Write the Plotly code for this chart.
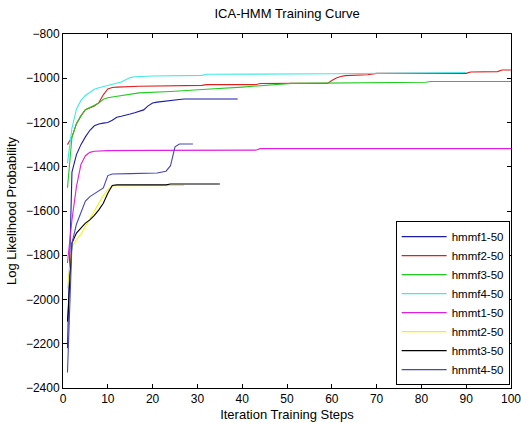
import plotly.graph_objects as go

names = ["hmmf1-50", "hmmf2-50", "hmmf3-50", "hmmf4-50",
         "hmmt1-50", "hmmt2-50", "hmmt3-50", "hmmt4-50"]
colors = ["#1c1ca8", "#dd2020", "#20cc20", "#40eaea",
          "#e020e0", "#f4f400", "#000000", "#4646c0"]

hmmf1_x = [1, 2, 3, 4, 5, 6, 7, 8, 9, 10, 11, 12, 13, 14, 15, 16, 17, 18, 19, 20, 21, 22, 23, 24, 25, 26, 27, 39]
hmmf1_y = [-2220, -1424, -1345, -1300, -1265, -1235, -1215, -1207, -1203, -1200, -1190, -1176, -1172, -1168,
           -1162, -1156, -1150, -1143, -1125, -1112, -1108, -1105, -1103, -1100, -1098, -1096, -1094, -1094]

hmmf2_x = [1, 2, 3, 4, 5, 6, 7, 8, 9, 10, 11, 12, 17, 31, 32, 43, 44, 51, 59, 60, 61, 62, 63, 68, 70, 90, 91, 97, 98, 100]
hmmf2_y = [-1300, -1266, -1205, -1170, -1142, -1132, -1125, -1110, -1075, -1048, -1042, -1040, -1036, -1032,
           -1029, -1029, -1024, -1023, -1023, -1010, -999, -992, -988, -984, -978, -978, -972, -970, -963, -963]

hmmf3_x = [1, 2, 3, 4, 5, 6, 7, 8, 9, 10, 11, 13, 15, 17, 24, 28, 32, 40, 48, 51, 81, 82, 100]
hmmf3_y = [-1495, -1266, -1205, -1170, -1142, -1132, -1122, -1112, -1095, -1088, -1085, -1078, -1070, -1066,
           -1060, -1056, -1050, -1040, -1030, -1023, -1018, -1015, -1015]

hmmf4_x = [1, 2, 3, 4, 5, 6, 7, 8, 9, 10, 11, 12, 13, 14, 15, 16, 20, 31, 32, 60, 90]
hmmf4_y = [-1385, -1225, -1140, -1100, -1078, -1062, -1050, -1043, -1038, -1034, -1030, -1024, -1017, -1007,
           -997, -993, -990, -987, -982, -980, -974]

hmmt1_x = [1, 2, 3, 4, 5, 6, 7, 8, 10, 20, 43, 44, 100]
hmmt1_y = [-1835, -1640, -1490, -1390, -1350, -1335, -1330, -1328, -1327, -1326, -1325, -1318, -1318]

hmmt2_x = [1, 2, 3, 4, 5, 6, 7, 8, 9, 10, 11, 27]
hmmt2_y = [-1950, -1760, -1730, -1705, -1670, -1635, -1600, -1565, -1530, -1505, -1486, -1484]

hmmt3_x = [1, 2, 3, 4, 5, 6, 7, 8, 9, 10, 11, 12, 23, 24, 35]
hmmt3_y = [-2100, -1745, -1700, -1675, -1655, -1640, -1620, -1595, -1565, -1520, -1485, -1482, -1482, -1478, -1478]

hmmt4_x = [1, 2, 3, 4, 5, 6, 7, 8, 9, 10, 11, 15, 21, 23, 24, 25, 26, 29]
hmmt4_y = [-2330, -1745, -1660, -1605, -1555, -1535, -1522, -1512, -1496, -1440, -1433, -1431, -1428,
           -1420, -1395, -1310, -1297, -1297]

xs = [hmmf1_x, hmmf2_x, hmmf3_x, hmmf4_x, hmmt1_x, hmmt2_x, hmmt3_x, hmmt4_x]
ys = [hmmf1_y, hmmf2_y, hmmf3_y, hmmf4_y, hmmt1_y, hmmt2_y, hmmt3_y, hmmt4_y]

x_ticks = list(range(0, 101, 10))
y_ticks = list(range(-2400, -799, 200))

fig = go.Figure()
for n, c, x, y in zip(names, colors, xs, ys):
    fig.add_trace(go.Scatter(x=x, y=y, mode="lines", name=n,
                             line=dict(color=c, width=1.1)))

fam = "Liberation Sans, Arial, sans-serif"
tick_font = dict(family=fam, size=12, color="black")
title_font = dict(family=fam, size=13, color="black")
legend_font = dict(family=fam, size=11.5, color="black")
axis_common = dict(showline=True, linecolor="black", linewidth=1, mirror="ticks",
                   ticks="inside", ticklen=4, tickcolor="black", tickwidth=1,
                   showgrid=False, zeroline=False, tickfont=tick_font, automargin=False,
                   ticklabeloverflow="allow")

fig.update_layout(
    width=521, height=423,
    margin=dict(l=63, r=10, t=34, b=35),
    paper_bgcolor="white", plot_bgcolor="white",
    font=tick_font,
    title=dict(text="ICA-HMM Training Curve", x=0.551, xanchor="center",
               y=1 - 13 / 423, yanchor="middle", font=title_font),
    xaxis=dict(range=[0, 100], tickvals=x_ticks,
               title=dict(text="Iteration Training Steps", font=title_font, standoff=4),
               **axis_common),
    yaxis=dict(range=[-2400, -800], tickvals=y_ticks,
               title=dict(text="Log Likelihood Probability", font=title_font, standoff=6),
               **axis_common),
    legend=dict(x=0.997, y=0.008, xanchor="right", yanchor="bottom",
                bgcolor="white", bordercolor="black", borderwidth=1,
                font=legend_font, tracegroupgap=0, itemwidth=45),
    showlegend=True,
)

fig.write_html("out.html")
